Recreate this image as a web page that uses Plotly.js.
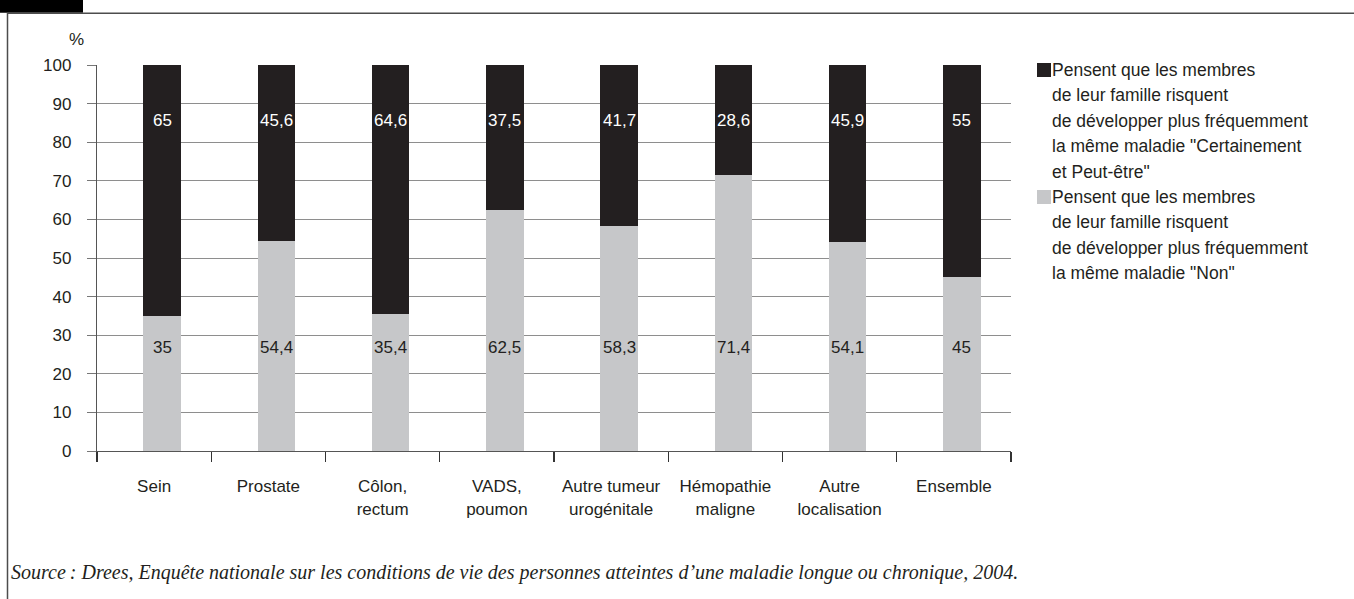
<!DOCTYPE html>
<html>
<head>
<meta charset="utf-8">
<script src="https://cdn.plot.ly/plotly-3.0.1.min.js"></script>
<style>html,body{margin:0;padding:0;background:#fff}#chart{width:1354px;height:599px}</style>
</head>
<body>
<div id="chart"></div>
<script>
// ---- data ----
const categories = ["Sein", "Prostate", "Côlon,<br>rectum", "VADS,<br>poumon", "Autre tumeur<br>urogénitale", "Hémopathie<br>maligne", "Autre<br>localisation", "Ensemble"];
const nonValues = [35, 54.4, 35.4, 62.5, 58.3, 71.4, 54.1, 45];
const ouiValues = [65, 45.6, 64.6, 37.5, 41.7, 28.6, 45.9, 55];
const nonLabels = ["35", "54,4", "35,4", "62,5", "58,3", "71,4", "54,1", "45"];
const ouiLabels = ["65", "45,6", "64,6", "37,5", "41,7", "28,6", "45,9", "55"];
const yTickVals = [0, 10, 20, 30, 40, 50, 60, 70, 80, 90, 100];
const seriesNames = [
  'Pensent que les membres de leur famille risquent de développer plus fréquemment la même maladie "Certainement et Peut-être"',
  'Pensent que les membres de leur famille risquent de développer plus fréquemment la même maladie "Non"'
];
const legendLines = [
  ["Pensent que les membres", "de leur famille risquent", "de développer plus fréquemment", "la même maladie \"Certainement", "et Peut-être\""],
  ["Pensent que les membres", "de leur famille risquent", "de développer plus fréquemment", "la même maladie \"Non\""]
];
const sourceText = "Source\u202F: Drees, Enquête nationale sur les conditions de vie des personnes atteintes d\u2019une maladie longue ou chronique, 2004.";

// ---- styles ----
const BLACK = "#231f20", GREY = "#c6c7c9", INK = "#231f20";
const FONT = "Liberation Sans, Arial, sans-serif";
const barWidth = 0.33, barOffset = -0.095;

// plot area in pixels
const L = 97, R = 1011, T = 65, B = 451;
const px2x = p => (p - L) / (R - L);
const py2y = p => (B - p) / (B - T);

const traces = [
  { type: "bar", name: seriesNames[1], x: categories, y: nonValues,
    marker: { color: GREY }, width: barWidth, offset: barOffset, hoverinfo: "y" },
  { type: "bar", name: seriesNames[0], x: categories, y: ouiValues,
    marker: { color: BLACK }, width: barWidth, offset: barOffset, hoverinfo: "y" }
];

const annotations = [];
const centerShift = barOffset + barWidth / 2;
categories.forEach((c, i) => {
  annotations.push({ x: i + centerShift, y: 85.7, xref: "x", yref: "y", text: ouiLabels[i],
    showarrow: false, font: { family: FONT, size: 17, color: "#ffffff" } });
  annotations.push({ x: i + centerShift, y: 26.9, xref: "x", yref: "y", text: nonLabels[i],
    showarrow: false, font: { family: FONT, size: 17, color: INK } });
});
// "%" unit
annotations.push({ x: px2x(67), y: py2y(28), xref: "paper", yref: "paper", text: "%",
  showarrow: false, font: { family: FONT, size: 17, color: INK } });
// source
annotations.push({ x: px2x(9), y: py2y(572), xref: "paper", yref: "paper", xanchor: "left", yanchor: "middle",
  text: "<i>" + sourceText + "</i>", showarrow: false,
  font: { family: "Liberation Serif, Times New Roman, serif", size: 20, color: INK } });
// custom legend text
const lineStep = 25.4, legendTop = 70;
let li = 0;
legendLines.forEach(lines => {
  lines.forEach(t => {
    annotations.push({ x: px2x(1050), y: py2y(legendTop + li * lineStep), xref: "paper", yref: "paper",
      xanchor: "left", yanchor: "middle", text: t, showarrow: false,
      font: { family: FONT, size: 17.5, color: INK } });
    li++;
  });
});

const shapes = [
  { type: "rect", xref: "paper", yref: "paper", x0: px2x(0), x1: px2x(83), y0: py2y(12.7), y1: py2y(0),
    fillcolor: "#000", line: { width: 0 } },
  { type: "line", xref: "paper", yref: "paper", x0: px2x(7), x1: px2x(1354), y0: py2y(13.3), y1: py2y(13.3),
    line: { color: "#4d4d4d", width: 1.5 } },
  { type: "line", xref: "paper", yref: "paper", x0: px2x(7.5), x1: px2x(7.5), y0: py2y(13), y1: py2y(599),
    line: { color: "#4d4d4d", width: 1.5 } },
  // legend keys
  { type: "rect", xref: "paper", yref: "paper", x0: px2x(1037), x1: px2x(1051),
    y0: py2y(legendTop + 7), y1: py2y(legendTop - 7), fillcolor: BLACK, line: { width: 0 } },
  { type: "rect", xref: "paper", yref: "paper", x0: px2x(1037), x1: px2x(1051),
    y0: py2y(legendTop + 5 * lineStep + 7), y1: py2y(legendTop + 5 * lineStep - 7), fillcolor: GREY, line: { width: 0 } }
];

const layout = {
  width: 1354, height: 599,
  margin: { l: L, r: 1354 - R, t: T, b: 599 - B, pad: 0 },
  paper_bgcolor: "#fff", plot_bgcolor: "#fff",
  barmode: "stack", showlegend: false,
  font: { family: FONT, size: 17, color: INK },
  xaxis: { type: "category", showline: true, linecolor: "#555", linewidth: 1,
    ticks: "outside", tickson: "boundaries", ticklen: 10, tickcolor: "#333", tickwidth: 1.2,
    ticklabelstandoff: 20,
    showgrid: false, tickfont: { family: FONT, size: 17, color: INK }, fixedrange: true },
  yaxis: { range: [0, 100], tickvals: yTickVals, ticktext: yTickVals.map(String),
    showline: true, linecolor: "#555", linewidth: 1.2, ticks: "outside", ticklen: 9, tickcolor: "#777",
    showgrid: true, gridcolor: "#8e8e8e", gridwidth: 1, zeroline: false,
    ticklabelstandoff: 12, tickfont: { family: FONT, size: 17, color: INK }, fixedrange: true },
  annotations: annotations,
  shapes: shapes
};

Plotly.newPlot("chart", traces, layout, { displayModeBar: false, staticPlot: true });
</script>
</body>
</html>
